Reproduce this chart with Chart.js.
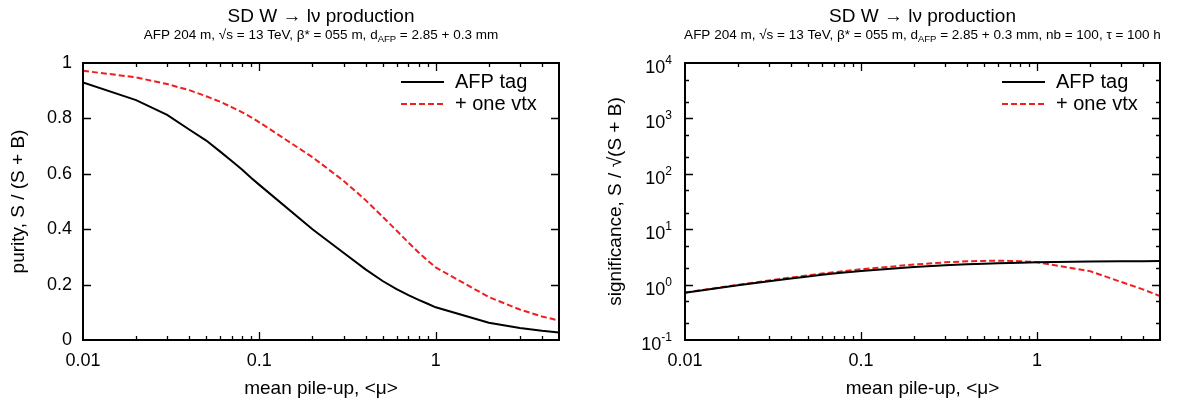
<!DOCTYPE html>
<html>
<head>
<meta charset="utf-8">
<script src="https://cdn.jsdelivr.net/npm/chart.js@4.4.1/dist/chart.umd.min.js"></script>
<style>
  html, body { margin: 0; padding: 0; background: #fff; }
  #wrap { position: relative; width: 1177px; height: 403px; }
  canvas { position: absolute; top: 0; }
</style>
</head>
<body>
<div id="wrap">
  <canvas id="purityChart" width="590" height="403" style="left:0"></canvas>
  <canvas id="signifChart" width="587" height="403" style="left:590px"></canvas>
</div>
<script>
const FONT = '"Liberation Sans", Arial, Helvetica, sans-serif';

// mean pile-up values
const mu = [0.01, 0.02, 0.03, 0.04, 0.05, 0.06, 0.07, 0.08, 0.09,
            0.1, 0.2, 0.3, 0.4, 0.5, 0.6, 0.7, 0.8, 0.9,
            1, 2, 3, 4, 5];

// purity S/(S+B)
const purityTag = [0.930, 0.866, 0.813, 0.760, 0.720, 0.680, 0.645, 0.615, 0.585,
                   0.560, 0.400, 0.315, 0.255, 0.213, 0.184, 0.162, 0.145, 0.131,
                   0.118, 0.062, 0.043, 0.033, 0.027];
const purityVtx = [0.972, 0.948, 0.924, 0.902, 0.880, 0.860, 0.840, 0.822, 0.804,
                   0.786, 0.660, 0.575, 0.505, 0.445, 0.395, 0.352, 0.316, 0.287,
                   0.262, 0.155, 0.110, 0.085, 0.070];

// significance S/sqrt(S+B)
const signifTag = [0.71, 0.97, 1.15, 1.29, 1.40, 1.50, 1.58, 1.65, 1.71,
                   1.76, 2.08, 2.24, 2.33, 2.39, 2.43, 2.46, 2.49, 2.51,
                   2.53, 2.60, 2.63, 2.65, 2.66];
const signifVtx = [0.72, 0.99, 1.19, 1.34, 1.47, 1.58, 1.67, 1.75, 1.82,
                   1.89, 2.30, 2.52, 2.63, 2.68, 2.70, 2.68, 2.64, 2.59,
                   2.53, 1.75, 1.12, 0.82, 0.62];

const seriesLabels = ['AFP tag', '+ one vtx'];
const xTicks = [0.01, 0.02, 0.03, 0.04, 0.05, 0.06, 0.07, 0.08, 0.09,
                0.1, 0.2, 0.3, 0.4, 0.5, 0.6, 0.7, 0.8, 0.9,
                1, 2, 3, 4, 5];
const xTickLabels = {0.01: '0.01', 0.1: '0.1', 1: '1'};
const purityTicks = [0, 0.2, 0.4, 0.6, 0.8, 1];
const signifTicks = [0.1, 0.2, 0.5, 1, 2, 5, 10, 20, 50, 100, 200, 500,
                     1000, 2000, 5000, 10000];

const mainTitle = 'SD W \u2192 l\u03BD production';
const subLeft = [['AFP 204 m, \u221As = 13 TeV, \u03B2* = 055 m, d'], ['AFP', 1], [' = 2.85 + 0.3 mm']];
const subRight = [['AFP 204 m, \u221As = 13 TeV, \u03B2* = 055 m, d'], ['AFP', 1],
                  [' = 2.85 + 0.3 mm, nb = 100, \u03C4 = 100 h']];

const isDecade = v => Math.abs(Math.log10(v) - Math.round(Math.log10(v))) < 1e-6;
const pts = ys => mu.map((x, i) => ({x: x, y: ys[i]}));

// frame, inward ticks, titles, legend
const plotDecor = {
  id: 'plotDecor',
  afterDraw(chart, args, o) {
    const ctx = chart.ctx, a = chart.chartArea, x = chart.scales.x, y = chart.scales.y;
    ctx.save();
    ctx.strokeStyle = '#000';
    ctx.lineWidth = 1.3;
    ctx.beginPath();
    x.ticks.forEach(t => {
      const p = Math.round(x.getPixelForValue(t.value)) + 0.5;
      if (p < a.left + 2 || p > a.right - 2) return;
      const len = isDecade(t.value) ? 8 : 4;
      ctx.moveTo(p, a.bottom); ctx.lineTo(p, a.bottom - len);
      ctx.moveTo(p, a.top); ctx.lineTo(p, a.top + len);
    });
    y.ticks.forEach(t => {
      const p = Math.round(y.getPixelForValue(t.value)) + 0.5;
      if (p < a.top + 2 || p > a.bottom - 2) return;
      const len = (!o.yLog || isDecade(t.value)) ? 8 : 4;
      ctx.moveTo(a.left, p); ctx.lineTo(a.left + len, p);
      ctx.moveTo(a.right, p); ctx.lineTo(a.right - len, p);
    });
    ctx.stroke();
    ctx.lineWidth = 2;
    ctx.strokeRect(a.left, a.top, a.right - a.left, a.bottom - a.top);

    ctx.fillStyle = '#000';
    // 10^n labels
    if (o.yLog) {
      y.ticks.forEach(t => {
        if (!isDecade(t.value)) return;
        const p = y.getPixelForValue(t.value);
        const e = String(Math.round(Math.log10(t.value)));
        ctx.textAlign = 'right';
        ctx.textBaseline = 'alphabetic';
        ctx.font = '12px ' + FONT;
        const right = a.left - 13;
        ctx.fillText(e, right, p + 1);
        const ew = ctx.measureText(e).width;
        ctx.font = '18px ' + FONT;
        ctx.fillText('10', right - ew, p + 10);
      });
    }

    // titles
    const cx = (a.left + a.right) / 2;
    ctx.textAlign = 'center';
    ctx.textBaseline = 'alphabetic';
    ctx.font = '19px ' + FONT;
    ctx.fillText(mainTitle, cx, 22);
    let w = 0;
    o.sub.forEach(s => {
      ctx.font = (s[1] ? '9.5px ' : '13.5px ') + FONT;
      w += ctx.measureText(s[0]).width;
    });
    let sx = cx - w / 2;
    ctx.textAlign = 'left';
    o.sub.forEach(s => {
      ctx.font = (s[1] ? '9.5px ' : '13.5px ') + FONT;
      ctx.fillText(s[0], sx, s[1] ? 42 : 39);
      sx += ctx.measureText(s[0]).width;
    });

    // legend
    ctx.font = '20px ' + FONT;
    ctx.textBaseline = 'middle';
    chart.data.datasets.forEach((ds, i) => {
      const ly = a.top + 19 + i * 22;
      ctx.beginPath();
      ctx.strokeStyle = ds.borderColor;
      ctx.lineWidth = ds.borderWidth;
      ctx.setLineDash(ds.borderDash || []);
      ctx.moveTo(a.right - 158, ly);
      ctx.lineTo(a.right - 115, ly);
      ctx.stroke();
      ctx.setLineDash([]);
      ctx.fillText(ds.label, a.right - 104, ly);
    });
    ctx.restore();
  }
};

function makeDatasets(tag, vtx) {
  return [{
    label: seriesLabels[0],
    data: pts(tag),
    borderColor: '#000000',
    borderWidth: 2,
    pointRadius: 0,
    tension: 0,
    fill: false
  }, {
    label: seriesLabels[1],
    data: pts(vtx),
    borderColor: '#f01e1e',
    borderWidth: 2,
    borderDash: [6, 3],
    pointRadius: 0,
    tension: 0,
    fill: false
  }];
}

function xScale() {
  return {
    type: 'logarithmic',
    min: 0.01,
    max: 5,
    grid: {display: false, drawTicks: false},
    border: {display: false},
    afterBuildTicks: s => { s.ticks = xTicks.map(v => ({value: v})); },
    ticks: {
      autoSkip: false,
      maxRotation: 0,
      padding: 10,
      color: '#000',
      font: {family: FONT, size: 18},
      callback: v => xTickLabels[v] || ''
    },
    title: {
      display: true,
      text: 'mean pile-up, <\u03BC>',
      color: '#000',
      font: {family: FONT, size: 19},
      padding: {top: 0, bottom: 3}
    },
    afterFit: s => { s.height = 63; }
  };
}

let purityChart = new Chart(document.getElementById('purityChart'), {
  type: 'line',
  data: {datasets: makeDatasets(purityTag, purityVtx)},
  options: {
    responsive: false,
    animation: false,
    layout: {padding: {left: 0, right: 31, top: 63, bottom: 0}},
    plugins: {
      legend: {display: false},
      tooltip: {enabled: false},
      plotDecor: {yLog: false, sub: subLeft}
    },
    scales: {
      x: xScale(),
      y: {
        type: 'linear',
        min: 0,
        max: 1,
        grid: {display: false, drawTicks: false},
        border: {display: false},
        afterBuildTicks: s => { s.ticks = purityTicks.map(v => ({value: v})); },
        ticks: {
          autoSkip: false,
          padding: 11,
          color: '#000',
          font: {family: FONT, size: 18},
          callback: v => String(v)
        },
        title: {
          display: true,
          text: 'purity, S / (S + B)',
          color: '#000',
          font: {family: FONT, size: 19},
          padding: {top: 7, bottom: 0}
        },
        afterFit: s => { s.width = 83; }
      }
    }
  },
  plugins: [plotDecor]
});

let signifChart = new Chart(document.getElementById('signifChart'), {
  type: 'line',
  data: {datasets: makeDatasets(signifTag, signifVtx)},
  options: {
    responsive: false,
    animation: false,
    layout: {padding: {left: 0, right: 17, top: 63, bottom: 0}},
    plugins: {
      legend: {display: false},
      tooltip: {enabled: false},
      plotDecor: {yLog: true, sub: subRight}
    },
    scales: {
      x: xScale(),
      y: {
        type: 'logarithmic',
        min: 0.1,
        max: 10000,
        grid: {display: false, drawTicks: false},
        border: {display: false},
        afterBuildTicks: s => { s.ticks = signifTicks.map(v => ({value: v})); },
        ticks: {
          autoSkip: false,
          padding: 11,
          color: '#000',
          font: {family: FONT, size: 18},
          callback: () => ''
        },
        title: {
          display: true,
          text: 'significance, S / \u221A(S + B)',
          color: '#000',
          font: {family: FONT, size: 19},
          padding: {top: 14, bottom: 0}
        },
        afterFit: s => { s.width = 95; }
      }
    }
  },
  plugins: [plotDecor]
});
</script>
</body>
</html>
